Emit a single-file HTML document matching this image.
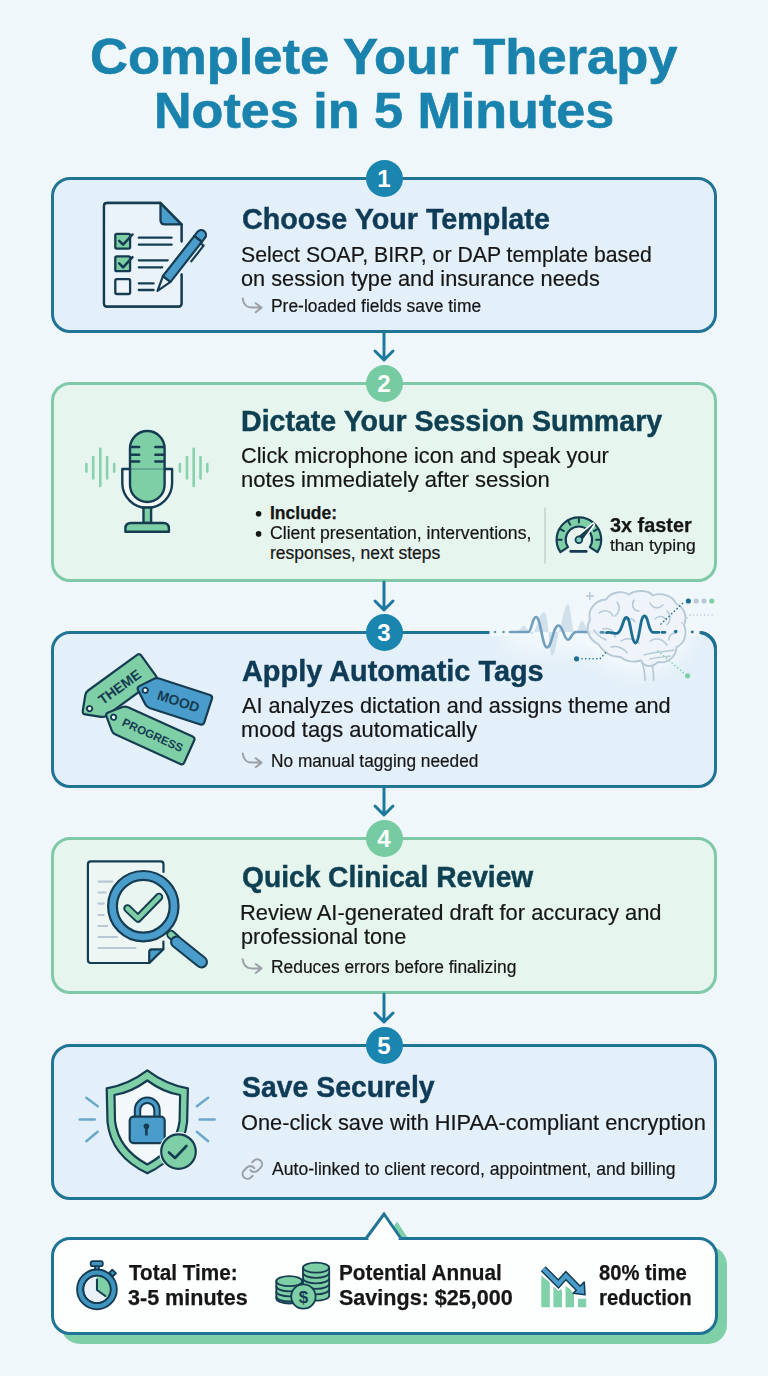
<!DOCTYPE html>
<html><head><meta charset="utf-8"><title>Complete Your Therapy Notes in 5 Minutes</title>
<style>
html,body{margin:0;padding:0}
body{width:768px;height:1376px;position:relative;overflow:hidden;background:#f0f7fa;font-family:"Liberation Sans",sans-serif}
.t{position:absolute;white-space:nowrap;line-height:1;transform-origin:0 0}
.card{position:absolute;left:51px;width:660px;border:3px solid;border-radius:19px;box-sizing:content-box}
.num{position:absolute;left:365.5px;width:37px;height:37px;border-radius:50%;color:#fff;font-weight:700;font-size:24px;line-height:37px;text-align:center}
.arr{position:absolute;left:369px;overflow:visible}
svg{position:absolute;overflow:visible}
</style></head><body>
<div class="card" style="top:177px;height:150px;border-color:#207495;background:#e4f0f9;"></div><div class="card" style="top:382px;height:194px;border-color:#80c9a8;background:#e6f5ee;"></div><div class="card" style="top:631px;height:151px;border-color:#207495;background:#e4f0f9;"></div><div class="card" style="top:837px;height:151px;border-color:#80c9a8;background:#e6f5ee;"></div><div class="card" style="top:1044px;height:150px;border-color:#207495;background:#e4f0f9;"></div>
<svg class="arr" style="top:333px;height:30px" width="30" viewBox="0 0 30 30"><path d="M15 0 V27 M6 18 L15 27 L24 18" fill="none" stroke="#1c78a0" stroke-width="3" stroke-linecap="round" stroke-linejoin="round"/></svg><svg class="arr" style="top:582px;height:31px" width="30" viewBox="0 0 30 31"><path d="M15 0 V28 M6 19 L15 28 L24 19" fill="none" stroke="#1c78a0" stroke-width="3" stroke-linecap="round" stroke-linejoin="round"/></svg><svg class="arr" style="top:788px;height:30px" width="30" viewBox="0 0 30 30"><path d="M15 0 V27 M6 18 L15 27 L24 18" fill="none" stroke="#1c78a0" stroke-width="3" stroke-linecap="round" stroke-linejoin="round"/></svg><svg class="arr" style="top:994px;height:31px" width="30" viewBox="0 0 30 31"><path d="M15 0 V28 M6 19 L15 28 L24 19" fill="none" stroke="#1c78a0" stroke-width="3" stroke-linecap="round" stroke-linejoin="round"/></svg>
<div class="num" style="top:160.0px;background:#1a86b0">1</div><div class="num" style="top:365.0px;background:#76cba2">2</div><div class="num" style="top:614.0px;background:#1a86b0">3</div><div class="num" style="top:820.0px;background:#76cba2">4</div><div class="num" style="top:1027.0px;background:#1a86b0">5</div>
<div style="position:absolute;left:61px;top:1246px;width:666px;height:98px;background:#7fcfa9;border-radius:19px"></div>
<svg width="768" height="1376" style="left:0;top:0"><path d="M380 1248 L397 1221.5 L415 1249 Z" fill="#7fcfa9"/></svg>
<div style="position:absolute;left:51px;top:1237px;width:660.5px;height:92px;background:#fdfefe;border:3px solid #207495;border-radius:19px"></div>
<svg width="768" height="1376" style="left:0;top:0"><path d="M366 1238.5 L384 1214 L401 1238.5" fill="#fdfefe" stroke="#207495" stroke-width="3" stroke-linejoin="miter"/><rect x="368.5" y="1238" width="30" height="4" fill="#fdfefe"/></svg>
<svg width="768" height="1376" viewBox="0 0 768 1376" style="left:0;top:0"><rect x="489.5" y="629" width="211" height="7" fill="#f0f7fa"/>
<defs><filter id="gl" x="-50%" y="-50%" width="200%" height="200%"><feGaussianBlur stdDeviation="7"/></filter></defs>
<ellipse cx="637" cy="634" rx="52" ry="38" fill="#f6fafd" opacity="0.85" filter="url(#gl)"/>
<ellipse cx="560" cy="640" rx="55" ry="14" fill="#f4f9fc" opacity="0.8" filter="url(#gl)"/>
<circle cx="495" cy="632" r="1.3" fill="#6f97ad"/><circle cx="503.5" cy="632" r="1.3" fill="#6f97ad"/>
<path d="M515 632 C520 632 521 626 524 626 C527 626 528 634 532 634 C536 634 539 612 544 612 C549 612 549 656 552 656 C556 656 558 630 561 624 C563 618 565 604 568 604 C571 604 572 634 575 634 C578 634 579 621 582 621 C585 621 586 632 590 632 Z" fill="#c9dbe7" opacity="0.8"/>
<path d="M510 632 H528 C532 632 532 617 536 617 C541 617 542 647.5 547 647.5 C552 647.5 553 625.5 558.6 625.5 C563 625.5 564 639.7 568 639.7 C571 639.7 572 632 576 632 H597.5" fill="none" stroke="#6f9fbd" stroke-width="2.6" stroke-linecap="round"/>
<g fill="none" stroke="#b7c9d7" stroke-width="1.9" stroke-linecap="round" stroke-linejoin="round">
<path d="M641 660 C644 667 645 673 645 680 M652 663 C653 669 654 674 653.5 680" stroke-width="1.7"/>
<path d="M598 644 C588 639 585 628 590 620 C587 609 596 600 606 599.5 C611 592 622 590 629 594.5 C636 589.5 648 590 653 595.5 C661 592 673 596 676 603.5 C684 607 688 617 684 625 C688 634 684 644 676.5 647 C676.5 656 668 664 658 662 C652 668 644 667 641 660.5 C634 662.5 626 661.5 620.5 657 C612 657.5 604 652.5 598 644 Z" fill="#edf3f8" fill-opacity="0.9"/>
<path d="M644 655 C652 652 664 652 674 650 M650 659 C657 657 664 657 670 656" stroke-width="1.4"/>
<path d="M599 613 C605 609 611 611 613 616 M617 602 C621 607 619 613 615 616 M634 600 C631 605 633 611 639 611 M650 603 C653 609 659 609 663 605 M667 611 C671 615 671 621 667 625 M603 629 C609 627 615 631 615 637 M621 641 C627 637 635 639 639 643 M650 641 C656 637 663 639 667 645 M611 647 C617 645 625 649 627 653 M606 640 C600 637 596 634 594 630 M676 633 C671 633 669 636 669 640 M624 621 C628 617 633 618 635 622 M655 619 C659 615 664 616 666 620" stroke-width="1.5"/>
</g>
<path d="M600.8 632.4 H603.4" stroke="#4f8db0" stroke-width="2.6" stroke-linecap="round"/>
<path d="M606.5 632.6 C610 631.5 613 633.6 617 633.4 C620 633 622 626 624 620 C625.5 616.5 627.5 616.5 629 621 C631 628 632.5 643 635.5 643 C638.5 643 640 625 642 619 C643.5 615 645.5 615 647 619 C649 625 650 632 653 632.3 H659 M662 632.3 H665" fill="none" stroke="#1d6d93" stroke-width="2.8" stroke-linecap="round"/>
<g fill="none" stroke-width="1.6" stroke-linecap="round" stroke-dasharray="0.1 3.6">
<path d="M661 624 L684 602" stroke="#1f6f95"/>
<path d="M682 623 L690 615 H714" stroke="#c0ced9"/>
<path d="M582 658.8 H600 L606.2 652.2" stroke="#1f6f95"/>
<path d="M658 651 L686 675" stroke="#7fcfa6"/>
</g>
<circle cx="576.6" cy="658.8" r="2.6" fill="#1f6f95"/>
<circle cx="688.4" cy="601" r="2.6" fill="#1f6f95"/><circle cx="696.2" cy="601" r="2.6" fill="#b8c8d4"/><circle cx="704" cy="601" r="2.6" fill="#b8c8d4"/><circle cx="711.8" cy="601" r="2.6" fill="#7fcfa6"/>
<circle cx="687.6" cy="675.8" r="2.6" fill="#7fcfa6"/>
<circle cx="675.7" cy="631.5" r="1.8" fill="#1f6f95"/><circle cx="692.3" cy="632" r="1.4" fill="#1f6f95"/>
<path d="M589.8 592.5 V599.5 M586.3 596 H593.3" stroke="#b8c8d4" stroke-width="1.5" stroke-linecap="round"/>
<path d="M700 632.5 H699.5 A16 16 0 0 1 715.5 648.5" fill="none" stroke="#1e6e91" stroke-width="3"/><g fill="none" stroke="#163c52" stroke-width="2.3" stroke-linecap="round" stroke-linejoin="round">
<path d="M181.5 241.5 V224.4 M181.5 274.4 V303.5 Q181.5 306.5 178.5 306.5 H107 Q104 306.5 104 303.5 V206 Q104 203 107 203 H160.5" fill="none"/>
<path d="M181.5 224.4 V303.5 Q181.5 306.5 178.5 306.5 H107 Q104 306.5 104 303.5 V206 Q104 203 107 203 H160.5 Z" fill="#eaf3f9" stroke="none"/>
<path d="M160.5 203 L181.5 224.4 H165 Q160.5 224.4 160.5 220 Z" fill="#4a9dcb"/>
<path d="M181.5 241.5 V224.4 M181.5 274.4 V303.5 Q181.5 306.5 178.5 306.5 H107 Q104 306.5 104 303.5 V206 Q104 203 107 203 H160.5 L181.5 224.4"/>
<rect x="115.3" y="233.8" width="14.8" height="14.8" rx="1.5" fill="#7fcfa6"/>
<rect x="115.3" y="256.4" width="14.8" height="14.8" rx="1.5" fill="#7fcfa6"/>
<rect x="115.3" y="279.2" width="14.8" height="14.8" rx="1.5" fill="#eef5fa"/>
<path d="M119.2 240.8 L123.1 244.7 L132.5 234.5 M119.2 263.4 L123.1 267.3 L132.5 257.1" stroke-width="2.5"/>
<path d="M138.8 237.7 H171.6 M138.8 244.7 H171.6 M138.8 260.3 H167.7 M138.8 267.3 H162.2 M138.8 283.4 H153.6 M138.8 290 H153.6"/>
</g>
<g transform="translate(157.5 290.8) rotate(-52)" stroke="#163c52" stroke-width="2.2" stroke-linejoin="round" stroke-linecap="round">
<path d="M0 0 L15 -4.8 L15 4.8 Z" fill="#eaf3f9"/>
<path d="M15 -4.8 H66 V4.8 H15 Z" fill="#4a9dcb"/>
<path d="M66 -4.8 H71 A4.8 4.8 0 0 1 71 4.8 H66 Z" fill="#4a9dcb"/>
<path d="M66 -4.8 V4.8" fill="none"/>
<path d="M64 4.8 V8.5 H44" fill="none"/>
</g>
<path d="M86.4 464 V471.6 M93.2 457 V478.4 M100.3 448.8 V486 M107.1 457 V478.4 M114.2 464 V471.6 M179.9 464 V471.6 M187 457 V478.4 M193.7 448.8 V486 M200.5 457 V478.4 M207.3 464 V471.6" stroke="#8ad2ae" stroke-width="2.6" stroke-linecap="round" fill="none"/>
<g stroke="#163c52" stroke-width="2.4" stroke-linejoin="round" stroke-linecap="round">
<path d="M122.3 469 V483 A24.9 24.9 0 0 0 172.1 483 V469 Z" fill="#f4f9f6"/>
<rect x="143.5" y="507.5" width="7.6" height="15.5" fill="#7fcfa6"/>
<path d="M125.4 531.7 V528.5 Q125.4 523 131 523 H163.3 Q168.9 523 168.9 528.5 V531.7 Z" fill="#7fcfa6"/>
<rect x="130" y="431" width="34.6" height="71" rx="17.3" fill="#7fcfa6"/>
<path d="M131 447 H139.2 M131 454.7 H139.2 M131 461.5 H139.2 M155.3 447 H163.6 M155.3 454.7 H163.6 M155.3 461.5 H163.6" fill="none"/>
<path d="M131 469 H163.6" fill="none" stroke-width="1" opacity="0.5"/>
</g>
<g transform="translate(82.3 713.9) rotate(-36)"><path d="M2.12 -2.12 L13.38 -13.38 Q15.50 -15.50 18.50 -15.50 L79.00 -15.50 Q82.00 -15.50 82.00 -12.50 L82.00 12.50 Q82.00 15.50 79.00 15.50 L18.50 15.50 Q15.50 15.50 13.38 13.38 L2.12 2.12 Q0.00 0.00 2.12 -2.12 Z" fill="#7fcfa6" stroke="#163c52" stroke-width="2.2" stroke-linejoin="round"/><circle cx="9" cy="0" r="2.6" fill="#f4f8fb" stroke="#163c52" stroke-width="1.8"/><text x="46" y="5.04" text-anchor="middle" font-family="Liberation Sans" font-weight="700" font-size="14" fill="#163c52">THEME</text></g>
<g transform="translate(105.4 713.5) rotate(24.4)"><path d="M2.12 -2.12 L12.88 -12.88 Q15.00 -15.00 18.00 -15.00 L89.00 -15.00 Q92.00 -15.00 92.00 -12.00 L92.00 12.00 Q92.00 15.00 89.00 15.00 L18.00 15.00 Q15.00 15.00 12.88 12.88 L2.12 2.12 Q0.00 0.00 2.12 -2.12 Z" fill="#7fcfa6" stroke="#163c52" stroke-width="2.2" stroke-linejoin="round"/><circle cx="9" cy="0" r="2.6" fill="#f4f8fb" stroke="#163c52" stroke-width="1.8"/><text x="52" y="4.14" text-anchor="middle" font-family="Liberation Sans" font-weight="700" font-size="11.5" fill="#163c52">PROGRESS</text></g>
<g transform="translate(136.7 687.5) rotate(18)"><path d="M2.12 -2.12 L13.38 -13.38 Q15.50 -15.50 18.50 -15.50 L72.00 -15.50 Q75.00 -15.50 75.00 -12.50 L75.00 12.50 Q75.00 15.50 72.00 15.50 L18.50 15.50 Q15.50 15.50 13.38 13.38 L2.12 2.12 Q0.00 0.00 2.12 -2.12 Z" fill="#4a9dcb" stroke="#163c52" stroke-width="2.2" stroke-linejoin="round"/><circle cx="9" cy="0" r="2.6" fill="#f4f8fb" stroke="#163c52" stroke-width="1.8"/><text x="44" y="5.04" text-anchor="middle" font-family="Liberation Sans" font-weight="700" font-size="14" fill="#163c52">MOOD</text></g>
<g stroke="#163c52" stroke-width="2.2" stroke-linejoin="round" stroke-linecap="round">
<path d="M163.5 872 V864.4 Q163.5 861.4 160.5 861.4 H90.9 Q87.9 861.4 87.9 864.4 V960 Q87.9 963 90.9 963 H149.2 L163.4 948.8 V941.6" fill="#edf6f3"/>
<path d="M149.2 963 V952 Q149.2 949.3 152 949.3 H163.4 Z" fill="#4a9dcb"/>
<path d="M98.5 881.6 H112.5 M98.5 892.5 H105.5 M98.5 903.6 H103.7 M98.5 915 H103.7 M98.5 926 H107.2 M98.5 937 H117 M98.5 948 H135.4" stroke="#b9c6d6" fill="none"/>
<path d="M171 934.5 L176 939" stroke="#163c52" stroke-width="9.5"/>
<path d="M171 934.5 L176 939" stroke="#7fcfa6" stroke-width="5.5"/>
<path d="M176.5 942 L201.5 962" stroke="#163c52" stroke-width="13"/>
<path d="M176.5 942 L201.5 962" stroke="#4a9dcb" stroke-width="8.8"/>
<circle cx="143.3" cy="906.2" r="26.4" fill="#e9f5f1" stroke="none"/>
<circle cx="143.3" cy="906.2" r="30.8" fill="none" stroke="#4a9dcb" stroke-width="8.8"/>
<circle cx="143.3" cy="906.2" r="35.2" fill="none"/>
<circle cx="143.3" cy="906.2" r="26.4" fill="none"/>
<path d="M127.5 908.5 L138 918.5 L159 897" fill="none" stroke="#163c52" stroke-width="8.5"/>
<path d="M127.5 908.5 L138 918.5 L159 897" fill="none" stroke="#7fcfa6" stroke-width="4.6"/>
</g>
<path d="M86.3 1097.8 L97.7 1106.3 M79.7 1119.5 L94.8 1119.5 M86.3 1141.2 L97.7 1131.7 M208.1 1097.8 L196.8 1106.3 M199.6 1119.5 L214.7 1119.5 M196.8 1131.7 L208.1 1141.2" stroke="#6ba8c9" stroke-width="2.5" stroke-linecap="round" fill="none"/>
<g stroke="#163c52" stroke-width="2.2" stroke-linejoin="round" stroke-linecap="round">
<path d="M147.3 1070.4 Q128 1085 106.7 1088.3 L107.5 1122 Q111 1156 147.3 1173.3 Q183.6 1156 187.1 1122 L187.9 1088.3 Q166.6 1085 147.3 1070.4 Z" fill="#7fcfa6"/>
<path d="M147.3 1080.5 Q131 1092.5 114.5 1095 L115 1121 Q118.5 1149 147.3 1164.5 Q176.1 1149 179.6 1121 L180.1 1095 Q163.6 1092.5 147.3 1080.5 Z" fill="#f3f8fb"/>
<path d="M137.5 1117 V1110 A9.75 9.75 0 0 1 157 1110 V1117" fill="none" stroke-width="7.4"/>
<path d="M137.5 1117 V1110 A9.75 9.75 0 0 1 157 1110 V1117" fill="none" stroke="#4a9dcb" stroke-width="3.4"/>
<rect x="129.7" y="1116.6" width="35" height="26.5" rx="4" fill="#4a9dcb"/>
<circle cx="146.4" cy="1126.3" r="2.8" fill="#163c52" stroke="none"/>
<path d="M146.4 1127 V1134.5" stroke-width="2.6"/>
<circle cx="178.5" cy="1151.6" r="19.5" fill="#eef5fa" stroke="none"/>
<circle cx="178.5" cy="1151.6" r="17.3" fill="#7fcfa6"/>
<path d="M169 1152.5 L175 1158 L186.4 1146" fill="none" stroke-width="2.6"/>
</g><g stroke="#163c52" stroke-width="1.8" stroke-linejoin="round" stroke-linecap="round">
<rect x="95" y="1265" width="3.9" height="5" fill="#3f94c0"/>
<rect x="90.7" y="1261.2" width="12.1" height="5" rx="2" fill="#3f94c0"/>
<rect x="-2.6" y="-2.2" width="5.2" height="4.4" fill="#3f94c0" transform="translate(112.6 1273) rotate(45)"/>
<circle cx="96.95" cy="1289.4" r="16.8" fill="none" stroke="#3f94c0" stroke-width="6.2"/>
<circle cx="96.95" cy="1289.4" r="19.9" fill="none"/>
<circle cx="96.95" cy="1289.4" r="13.7" fill="#e9f0f7"/>
<path d="M96.95 1289.4 L96.95 1275.70 A13.7 13.7 0 0 1 107.13 1298.57 Z" fill="#7fcfa6" stroke="none"/>
<circle cx="96.95" cy="1289.4" r="13.7" fill="none"/>
<path d="M96.95 1279.5 V1290 L105.3 1296" fill="none" stroke-width="2"/>
</g>
<g stroke="#163c52" stroke-width="1.8" stroke-linejoin="round"><path d="M303.0 1267.7 V1295.7 A13.1 5 0 0 0 329.20000000000005 1295.7 V1267.7 Z" fill="#7fcfa6"/><path d="M303.0 1272.8 A13.1 5 0 0 0 329.20000000000005 1272.8" fill="none"/><path d="M303.0 1278.3 A13.1 5 0 0 0 329.20000000000005 1278.3" fill="none"/><path d="M303.0 1283.8 A13.1 5 0 0 0 329.20000000000005 1283.8" fill="none"/><path d="M303.0 1289.3 A13.1 5 0 0 0 329.20000000000005 1289.3" fill="none"/><ellipse cx="316.1" cy="1267.7" rx="13.1" ry="5" fill="#7fcfa6"/><path d="M276.3 1281.2 V1298.5 A12.95 5 0 0 0 302.2 1298.5 V1281.2 Z" fill="#7fcfa6"/><path d="M276.3 1286.3 A12.95 5 0 0 0 302.2 1286.3" fill="none"/><path d="M276.3 1291.4 A12.95 5 0 0 0 302.2 1291.4" fill="none"/><path d="M276.3 1296.5 A12.95 5 0 0 0 302.2 1296.5" fill="none"/><ellipse cx="289.25" cy="1281.2" rx="12.95" ry="5" fill="#7fcfa6"/><circle cx="303.4" cy="1296.5" r="12.2" fill="#7fcfa6"/><text x="303.4" y="1302.5" text-anchor="middle" font-family="Liberation Sans" font-weight="700" font-size="17" fill="#163c52" stroke="none">$</text></g>
<g>
<path d="M541.3 1275.7 L549.8 1282 V1307.3 H541.3 Z M553.4 1287 L562 1290 V1307.3 H553.4 Z M565.5 1286 L570 1289 L574 1294 V1307.3 H565.5 Z M578 1298.8 H586.2 V1307.3 H578 Z" fill="#80d0a9"/>
<path d="M543.2 1268.7 L558.4 1283.9 L565.9 1275.7 L578.5 1288.5" fill="none" stroke="#ffffff" stroke-width="10" stroke-linejoin="miter"/>
<path d="M543.2 1268.7 L558.4 1283.9 L565.9 1275.7 L578.5 1288.5" fill="none" stroke="#163c52" stroke-width="7" stroke-linejoin="miter"/>
<path d="M573.3 1293.3 L585 1294.8 L584.2 1282 Z" fill="#4a9dcb" stroke="#163c52" stroke-width="1.6" stroke-linejoin="round"/>
<path d="M543.2 1268.7 L558.4 1283.9 L565.9 1275.7 L579.5 1289.5" fill="none" stroke="#4a9dcb" stroke-width="4.2" stroke-linejoin="miter"/>
</g><path d="M242.7 298.5 C243.5 305 247 307.6 252 307.6 H261.2 M255.7 303.2 L261.5 307.6 L255.7 312.2" fill="none" stroke="#9ba1a7" stroke-width="2" stroke-linecap="round" stroke-linejoin="round"/>
<path d="M242.7 753.5 C243.5 760 247 762.6 252 762.6 H261.2 M255.7 758.2 L261.5 762.6 L255.7 767.2" fill="none" stroke="#9ba1a7" stroke-width="2" stroke-linecap="round" stroke-linejoin="round"/>
<path d="M242.7 959.3 C243.5 965.8 247 968.4 252 968.4 H261.2 M255.7 964.0 L261.5 968.4 L255.7 973.0" fill="none" stroke="#9ba1a7" stroke-width="2" stroke-linecap="round" stroke-linejoin="round"/>
<g fill="none" stroke="#9ba1a7" stroke-width="2.1" stroke-linecap="round" stroke-linejoin="round" transform="translate(240.6 1157.3) scale(0.98)">
<path d="M10 13a5 5 0 0 0 7.54.54l3-3a5 5 0 0 0-7.07-7.07l-1.72 1.71"/>
<path d="M14 11a5 5 0 0 0-7.54-.54l-3 3a5 5 0 0 0 7.07 7.07l1.71-1.71"/>
</g>
<circle cx="258.6" cy="513.8" r="2.8" fill="#161616"/><circle cx="258.6" cy="533.9" r="2.8" fill="#161616"/>
<path d="M545 507.5 V563.5" stroke="#c3d2cd" stroke-width="1.5"/>
<g stroke="#163c52" stroke-linejoin="round" stroke-linecap="round">
<path d="M560.41 552.17 A22.3 22.3 0 1 1 597.39 552.17 L589.84 547.08 A13.2 13.2 0 1 0 567.96 547.08 Z" fill="#7fcfa6" stroke-width="2.2"/>
<path d="M557.60 539.70 L561.60 539.70 M560.45 529.05 L563.92 531.05 M568.25 521.25 L570.25 524.72 M578.90 518.40 L578.90 522.40 M597.35 529.05 L593.88 531.05 M600.20 539.70 L596.20 539.70 " stroke-width="2" fill="none"/>
<path d="M577.00 537.93 L593.09 524.49 L580.80 541.47 Z" fill="#ffffff" stroke="#ffffff" stroke-width="4"/>
<path d="M577.00 537.93 L593.09 524.49 L580.80 541.47 Z" fill="#163c52" stroke-width="1"/>
<circle cx="578.9" cy="539.7" r="3.4" fill="#7fcfbf" stroke-width="1.8"/>
<path d="M570.7 551.4 H586.3" stroke-width="2.6"/>
</g></svg>
<div class="t" style="left:89.60px;top:31.67px;font-size:50px;font-weight:700;color:#1982ad;-webkit-text-stroke:0.6px #1982ad;transform:scaleX(1.0503)">Complete Your Therapy</div><div class="t" style="left:154.47px;top:85.67px;font-size:50px;font-weight:700;color:#1982ad;-webkit-text-stroke:0.6px #1982ad;transform:scaleX(1.0419)">Notes in 5 Minutes</div><div class="t" style="left:241.84px;top:204.20px;font-size:30px;font-weight:700;color:#0f3b57;-webkit-text-stroke:0.45px #0f3b57;transform:scaleX(0.9569)">Choose Your Template</div><div class="t" style="left:241.33px;top:244.18px;font-size:22px;font-weight:400;color:#161616;-webkit-text-stroke:0.2px #161616;transform:scaleX(0.9652)">Select SOAP, BIRP, or DAP template based</div><div class="t" style="left:241.31px;top:268.18px;font-size:22px;font-weight:400;color:#161616;-webkit-text-stroke:0.2px #161616;transform:scaleX(0.9876)">on session type and insurance needs</div><div class="t" style="left:270.90px;top:297.89px;font-size:17.5px;font-weight:400;color:#161616;-webkit-text-stroke:0.2px #161616;transform:scaleX(0.9957)">Pre-loaded fields save time</div><div class="t" style="left:240.90px;top:405.71px;font-size:30px;font-weight:700;color:#0f4052;-webkit-text-stroke:0.45px #0f4052;transform:scaleX(0.9520)">Dictate Your Session Summary</div><div class="t" style="left:241.31px;top:444.68px;font-size:22px;font-weight:400;color:#161616;-webkit-text-stroke:0.2px #161616;transform:scaleX(0.9892)">Click microphone icon and speak your</div><div class="t" style="left:241.30px;top:469.18px;font-size:22px;font-weight:400;color:#161616;-webkit-text-stroke:0.2px #161616;transform:scaleX(1.0023)">notes immediately after session</div><div class="t" style="left:270.00px;top:505.19px;font-size:17.5px;font-weight:700;color:#161616;-webkit-text-stroke:0.25px #161616;transform:scaleX(1.0000)">Include:</div><div class="t" style="left:269.99px;top:525.19px;font-size:17.5px;font-weight:400;color:#161616;-webkit-text-stroke:0.2px #161616;transform:scaleX(1.0062)">Client presentation, interventions,</div><div class="t" style="left:270.00px;top:544.79px;font-size:17.5px;font-weight:400;color:#161616;-webkit-text-stroke:0.2px #161616;transform:scaleX(1.0000)">responses, next steps</div><div class="t" style="left:610.40px;top:514.70px;font-size:20.2px;font-weight:700;color:#161616;-webkit-text-stroke:0.25px #161616;transform:scaleX(0.9831)">3x faster</div><div class="t" style="left:610.40px;top:538.38px;font-size:16.8px;font-weight:400;color:#161616;-webkit-text-stroke:0.2px #161616;transform:scaleX(1.0444)">than typing</div><div class="t" style="left:241.84px;top:656.40px;font-size:30px;font-weight:700;color:#0f3b57;-webkit-text-stroke:0.45px #0f3b57;transform:scaleX(0.9627)">Apply Automatic Tags</div><div class="t" style="left:242.30px;top:694.68px;font-size:22px;font-weight:400;color:#161616;-webkit-text-stroke:0.2px #161616;transform:scaleX(0.9843)">AI analyzes dictation and assigns theme and</div><div class="t" style="left:241.30px;top:719.18px;font-size:22px;font-weight:400;color:#161616;-webkit-text-stroke:0.2px #161616;transform:scaleX(0.9953)">mood tags automatically</div><div class="t" style="left:270.91px;top:752.89px;font-size:17.5px;font-weight:400;color:#161616;-webkit-text-stroke:0.2px #161616;transform:scaleX(0.9870)">No manual tagging needed</div><div class="t" style="left:241.86px;top:862.31px;font-size:30px;font-weight:700;color:#0f4052;-webkit-text-stroke:0.45px #0f4052;transform:scaleX(0.9392)">Quick Clinical Review</div><div class="t" style="left:240.31px;top:901.58px;font-size:22px;font-weight:400;color:#161616;-webkit-text-stroke:0.2px #161616;transform:scaleX(0.9962)">Review AI-generated draft for accuracy and</div><div class="t" style="left:241.31px;top:925.98px;font-size:22px;font-weight:400;color:#161616;-webkit-text-stroke:0.2px #161616;transform:scaleX(0.9861)">professional tone</div><div class="t" style="left:270.91px;top:958.69px;font-size:17.5px;font-weight:400;color:#161616;-webkit-text-stroke:0.2px #161616;transform:scaleX(0.9931)">Reduces errors before finalizing</div><div class="t" style="left:241.85px;top:1072.40px;font-size:30px;font-weight:700;color:#0f3b57;-webkit-text-stroke:0.45px #0f3b57;transform:scaleX(0.9465)">Save Securely</div><div class="t" style="left:241.31px;top:1111.58px;font-size:22px;font-weight:400;color:#161616;-webkit-text-stroke:0.2px #161616;transform:scaleX(0.9908)">One-click save with HIPAA-compliant encryption</div><div class="t" style="left:271.90px;top:1160.89px;font-size:17.5px;font-weight:400;color:#161616;-webkit-text-stroke:0.2px #161616;transform:scaleX(1.0042)">Auto-linked to client record, appointment, and billing</div><div class="t" style="left:129.40px;top:1261.30px;font-size:22.8px;font-weight:700;color:#161616;-webkit-text-stroke:0.25px #161616;transform:scaleX(0.9085)">Total Time:</div><div class="t" style="left:128.46px;top:1286.30px;font-size:22.8px;font-weight:700;color:#161616;-webkit-text-stroke:0.25px #161616;transform:scaleX(0.9448)">3-5 minutes</div><div class="t" style="left:339.09px;top:1261.30px;font-size:22.8px;font-weight:700;color:#161616;-webkit-text-stroke:0.25px #161616;transform:scaleX(0.9096)">Potential Annual</div><div class="t" style="left:339.05px;top:1286.30px;font-size:22.8px;font-weight:700;color:#161616;-webkit-text-stroke:0.25px #161616;transform:scaleX(0.9451)">Savings: $25,000</div><div class="t" style="left:599.11px;top:1261.30px;font-size:22.8px;font-weight:700;color:#161616;-webkit-text-stroke:0.25px #161616;transform:scaleX(0.8866)">80% time</div><div class="t" style="left:599.11px;top:1286.30px;font-size:22.8px;font-weight:700;color:#161616;-webkit-text-stroke:0.25px #161616;transform:scaleX(0.8922)">reduction</div>
</body></html>
